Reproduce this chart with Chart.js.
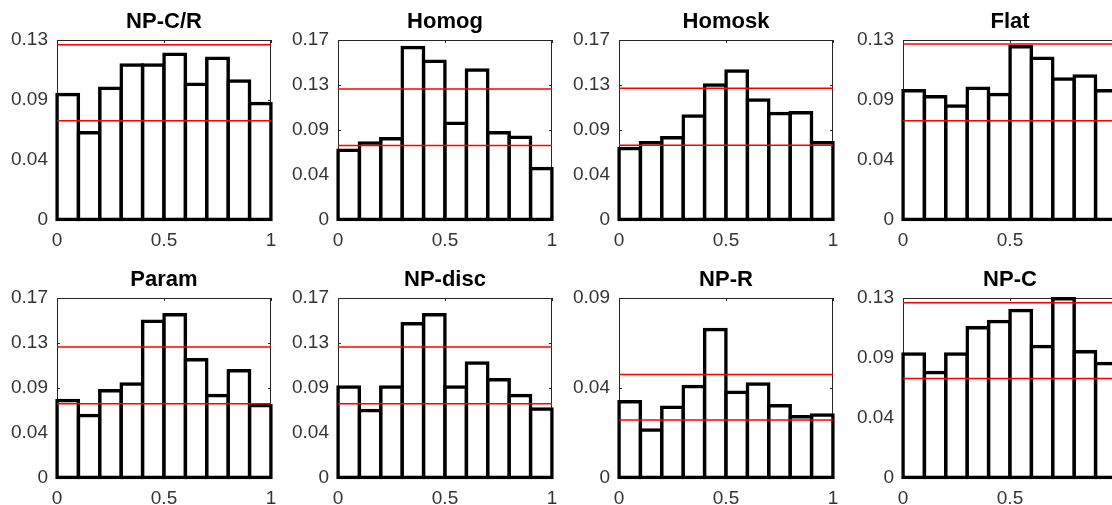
<!DOCTYPE html>
<html>
<head>
<meta charset="utf-8">
<script src="https://cdn.jsdelivr.net/npm/chart.js@4"></script>
<style>
  html, body { margin: 0; padding: 0; background: #fff; }
  body { position: relative; width: 1112px; height: 505px; overflow: hidden; }
  canvas { position: absolute; }
</style>
</head>
<body>
<script>
// histogram bins (10 bins of width 0.1 on [0, 1])
const binCenters = [0.05, 0.15, 0.25, 0.35, 0.45, 0.55, 0.65, 0.75, 0.85, 0.95];
const xTicks = [0, 0.5, 1];

const titles = ['NP-C/R', 'Homog', 'Homosk', 'Flat', 'Param', 'NP-disc', 'NP-R', 'NP-C'];

// bin frequencies per method
const npCR   = [0.0906, 0.0628, 0.0950, 0.1119, 0.1119, 0.1196, 0.0979, 0.1167, 0.1003, 0.0841];
const homog  = [0.0655, 0.0724, 0.0765, 0.1630, 0.1498, 0.0912, 0.1417, 0.0822, 0.0780, 0.0482];
const homosk = [0.0673, 0.0726, 0.0774, 0.0980, 0.1273, 0.1406, 0.1131, 0.1005, 0.1011, 0.0726];
const flat   = [0.0933, 0.0889, 0.0822, 0.0950, 0.0906, 0.1252, 0.1167, 0.1017, 0.1039, 0.0933];
const param  = [0.0730, 0.0588, 0.0822, 0.0885, 0.1479, 0.1542, 0.1115, 0.0777, 0.1011, 0.0682];
const npDisc = [0.0856, 0.0635, 0.0856, 0.1456, 0.1542, 0.0856, 0.1084, 0.0926, 0.0777, 0.0648];
const npR    = [0.0380, 0.0238, 0.0352, 0.0456, 0.0742, 0.0427, 0.0469, 0.0360, 0.0305, 0.0313];
const npC    = [0.0894, 0.0761, 0.0894, 0.1084, 0.1130, 0.1210, 0.0948, 0.1295, 0.0911, 0.0826];

// lower / upper reference bands (red lines)
const npCRBand   = [0.0715, 0.1266];
const homogBand  = [0.0702, 0.1237];
const homoskBand = [0.0704, 0.1242];
const flatBand   = [0.0715, 0.1271];
const paramBand  = [0.0698, 0.1235];
const npDiscBand = [0.0698, 0.1235];
const npRBand    = [0.0288, 0.0516];
const npCBand    = [0.0717, 0.1266];

// y ticks are evenly spaced up to the axis max, labels rounded to 2 decimals
const yTicks13 = [0, 0.13 / 3, 0.26 / 3, 0.13];
const yLabels13 = ['0', '0.04', '0.09', '0.13'];
const yTicks17 = [0, 0.0425, 0.085, 0.1275, 0.17];
const yLabels17 = ['0', '0.04', '0.09', '0.13', '0.17'];
const yTicks09 = [0, 0.045, 0.09];
const yLabels09 = ['0', '0.04', '0.09'];

const panels = [
  [npCR, npCRBand, yTicks13, yLabels13],
  [homog, homogBand, yTicks17, yLabels17],
  [homosk, homoskBand, yTicks17, yLabels17],
  [flat, flatBand, yTicks13, yLabels13],
  [param, paramBand, yTicks17, yLabels17],
  [npDisc, npDiscBand, yTicks17, yLabels17],
  [npR, npRBand, yTicks09, yLabels09],
  [npC, npCBand, yTicks13, yLabels13]
];

const FONT = '"Liberation Sans", Arial, Helvetica, sans-serif';
const colLeft = [0, 281, 562, 846];
const rowTop = [0, 258];

// thin box around the axes plus small inward ticks on all four sides
const framePlugin = {
  id: 'frame',
  beforeDatasetsDraw(chart) {
    const { ctx, chartArea: a, scales } = chart;
    ctx.save();
    ctx.strokeStyle = '#262626';
    ctx.lineWidth = 1;
    ctx.strokeRect(a.left + 0.5, a.top + 0.5, a.right - a.left - 1, a.bottom - a.top - 1);
    ctx.beginPath();
    scales.x.ticks.forEach(t => {
      const px = Math.round(scales.x.getPixelForValue(t.value)) + 0.5;
      ctx.moveTo(px, a.top); ctx.lineTo(px, a.top + 3);
      ctx.moveTo(px, a.bottom); ctx.lineTo(px, a.bottom - 3);
    });
    scales.y.ticks.forEach(t => {
      const py = Math.round(scales.y.getPixelForValue(t.value)) + 0.5;
      ctx.moveTo(a.left, py); ctx.lineTo(a.left + 3, py);
      ctx.moveTo(a.right, py); ctx.lineTo(a.right - 3, py);
    });
    ctx.stroke();
    ctx.restore();
  }
};

panels.forEach((p, i) => {
  const [values, band, ticks, labels] = p;
  const canvas = document.createElement('canvas');
  canvas.width = 281;
  canvas.height = 255;
  canvas.style.left = colLeft[i % 4] + 'px';
  canvas.style.top = rowTop[Math.floor(i / 4)] + 'px';
  document.body.appendChild(canvas);

  const bandLine = y => ({
    type: 'line',
    data: [{ x: 0, y }, { x: 1, y }],
    borderColor: '#ff0000',
    borderWidth: 1.5,
    pointRadius: 0,
    order: 1
  });

  new Chart(canvas, {
    type: 'bar',
    data: {
      datasets: [
        bandLine(band[0]),
        bandLine(band[1]),
        {
          type: 'bar',
          data: binCenters.map((x, k) => ({ x, y: values[k] })),
          backgroundColor: '#ffffff',
          borderColor: '#000000',
          borderWidth: 3.5,
          borderSkipped: false,
          inflateAmount: 1.75,
          barPercentage: 1,
          categoryPercentage: 1,
          clip: false,
          order: 2
        }
      ]
    },
    options: {
      responsive: false,
      animation: false,
      events: [],
      layout: { padding: { left: 0, right: 10, top: 0, bottom: 0 } },
      plugins: {
        legend: { display: false },
        tooltip: { enabled: false },
        title: {
          display: true,
          fullSize: false,
          text: titles[i],
          color: '#000',
          font: { family: FONT, size: 22, weight: 'bold', lineHeight: 1.2 },
          padding: { top: 9, bottom: 4.6 }
        }
      },
      scales: {
        x: {
          type: 'linear',
          min: 0,
          max: 1,
          offset: false,
          grid: { display: false, drawTicks: false },
          border: { display: false },
          ticks: {
            color: '#333',
            padding: 10,
            maxRotation: 0,
            font: { family: FONT, size: 19 },
            callback: v => String(v)
          },
          afterBuildTicks: s => { s.ticks = xTicks.map(v => ({ value: v })); },
          afterFit: s => { s.height = 35.5; s.paddingLeft = 0; s.paddingRight = 0; }
        },
        y: {
          min: 0,
          max: ticks[ticks.length - 1],
          grid: { display: false, drawTicks: false },
          border: { display: false },
          ticks: {
            color: '#333',
            padding: 9,
            font: { family: FONT, size: 19 },
            callback: (v, k) => labels[k]
          },
          afterBuildTicks: s => { s.ticks = ticks.map(v => ({ value: v })); },
          afterFit: s => { s.width = 57; s.paddingTop = 0; s.paddingBottom = 0; }
        }
      }
    },
    plugins: [framePlugin]
  });
});
</script>
</body>
</html>
